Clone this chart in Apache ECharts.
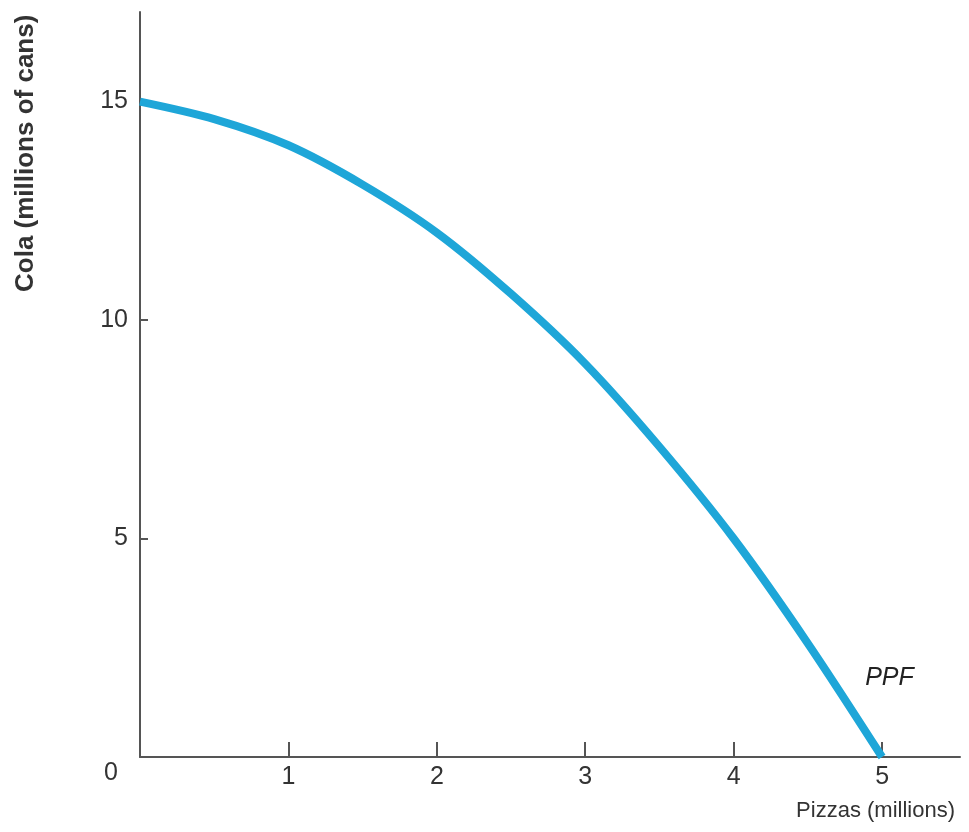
<!DOCTYPE html>
<html><head><meta charset="utf-8">
<script src="https://cdn.jsdelivr.net/npm/echarts@6/dist/echarts.min.js"></script>
<style>html,body{margin:0;padding:0;background:#fff}#c{width:969px;height:832px}</style>
</head><body><div id="c"></div>
<script>
var pizzas = [0, 0.5, 1, 1.5, 2, 2.5, 3, 3.5, 4, 4.5, 5];
var cola = [15, 14.6, 14, 13.1, 12, 10.6, 9, 7.1, 5, 2.6, 0];
var xTicks = [1, 2, 3, 4, 5];
var yTicks = [5, 10, 15];
var xName = 'Pizzas (millions)';
var yName = 'Cola (millions of cans)';
var curveLabel = 'PPF';

var chart = echarts.init(document.getElementById('c'));
var pts = pizzas.map(function(p, i){ return [p, cola[i]]; });
chart.setOption({
  animation: false,
  grid: {left: 140, right: 9, top: 12, bottom: 75},
  xAxis: {
    type: 'value', min: 0, max: 5.525, interval: 1,
    axisLine: {show: true, lineStyle: {color: '#555', width: 2}},
    axisTick: {show: true, inside: true, length: 15, lineStyle: {color: '#555', width: 2}},
    splitLine: {show: false},
    axisLabel: {
      showMinLabel: false, showMaxLabel: false, margin: 8,
      fontFamily: 'Liberation Sans', fontSize: 25, color: '#333',
      formatter: function(v){ return xTicks.indexOf(v) >= 0 ? String(v) : ''; }
    }
  },
  yAxis: {
    type: 'value', min: 0, max: 17.05, interval: 5,
    axisLine: {show: true, lineStyle: {color: '#555', width: 2}},
    axisTick: {show: true, inside: true, length: 8, lineStyle: {color: '#555', width: 2}},
    splitLine: {show: false},
    axisLabel: {
      showMinLabel: false, showMaxLabel: false, margin: 12,
      fontFamily: 'Liberation Sans', fontSize: 25, color: '#333',
      formatter: function(v){ return yTicks.indexOf(v) >= 0 ? String(v) : ''; }
    }
  },
  series: [{
    type: 'line', data: pts, smooth: 0.3, showSymbol: false,
    lineStyle: {color: '#1ea6d8', width: 8},
    markPoint: {
      symbol: 'rect', symbolSize: 1,
      itemStyle: {color: 'rgba(0,0,0,0)'},
      data: [{coord: [5.05, 1.8], value: curveLabel}],
      label: {show: true, position: 'inside', formatter: curveLabel, fontFamily: 'Liberation Sans', fontStyle: 'italic', fontSize: 25, color: '#222'}
    }
  }],
  graphic: [
    {type: 'text', left: 104, top: 761, style: {text: '0', font: '25px "Liberation Sans"', fill: '#333'}},
    {type: 'text', right: 14, top: 800, style: {text: xName, font: '22px "Liberation Sans"', fill: '#333'}},
    {type: 'text', x: 13, y: 292, rotation: Math.PI/2, style: {text: yName, font: 'bold 26px "Liberation Sans"', fill: '#333'}}
  ]
});
</script></body></html>
